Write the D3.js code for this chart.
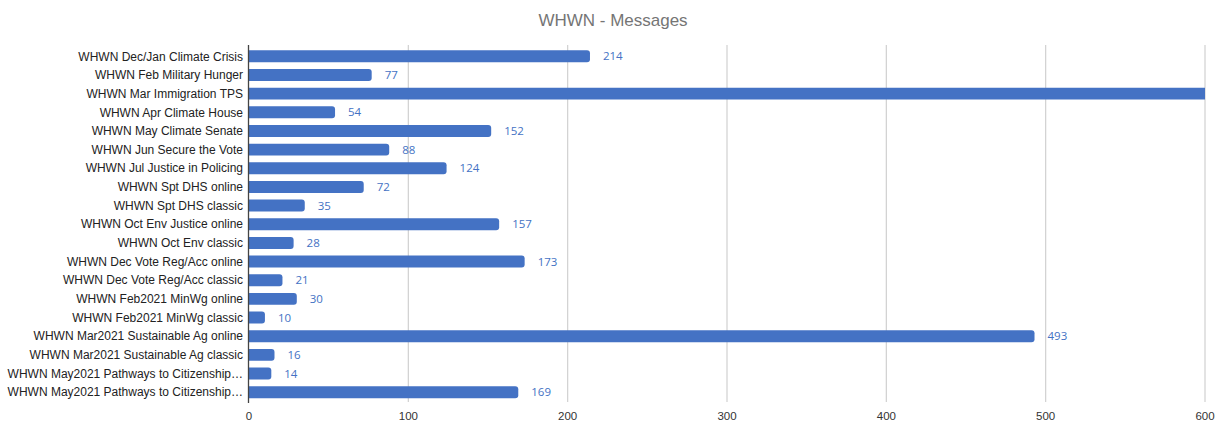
<!DOCTYPE html>
<html>
<head>
<meta charset="utf-8">
<script src="https://cdn.jsdelivr.net/npm/d3@7"></script>
<style>
  body { margin: 0; background: #fff; }
  svg { display: block; }
</style>
</head>
<body>
<svg id="chart"></svg>
<script>
var categories = [
    "WHWN Dec/Jan Climate Crisis",
    "WHWN Feb Military Hunger",
    "WHWN Mar Immigration TPS",
    "WHWN Apr Climate House",
    "WHWN May Climate Senate",
    "WHWN Jun Secure the Vote",
    "WHWN Jul Justice in Policing",
    "WHWN Spt DHS online",
    "WHWN Spt DHS classic",
    "WHWN Oct Env Justice online",
    "WHWN Oct Env classic",
    "WHWN Dec Vote Reg/Acc online",
    "WHWN Dec Vote Reg/Acc classic",
    "WHWN Feb2021 MinWg online",
    "WHWN Feb2021 MinWg classic",
    "WHWN Mar2021 Sustainable Ag online",
    "WHWN Mar2021 Sustainable Ag classic",
    "WHWN May2021 Pathways to Citizenship\u2026",
    "WHWN May2021 Pathways to Citizenship\u2026 "
];
// Mar Immigration TPS runs past the axis end; its true value is not visible
var messages = [214, 77, 640, 54, 152, 88, 124, 72, 35, 157, 28, 173, 21, 30, 10, 493, 16, 14, 169];
var xTicks = [0, 100, 200, 300, 400, 500, 600];

var width = 1225;
var height = 421;
var margin = { top: 47, right: 20, bottom: 20, left: 249 };
var xMax = 600;

var svg = d3.select("#chart").attr("width", width).attr("height", height);

var xScale = d3.scaleLinear().domain([0, xMax]).range([margin.left, 1205]);
var yScale = d3.scaleBand()
    .domain(categories)
    .range([margin.top, 401.5])
    .paddingInner(0.36)
    .paddingOuter(0.18);

var data = categories.map((c, i) => ({ category: c, value: messages[i] }));

// title
svg.append("text")
    .attr("x", 613)
    .attr("y", 26)
    .attr("text-anchor", "middle")
    .attr("font-family", "Liberation Sans, Arial, sans-serif")
    .attr("font-size", "17px")
    .attr("fill", "#757575")
    .text("WHWN - Messages");

// gridlines
svg.append("g")
    .selectAll("line")
    .data(xTicks.slice(1))
    .enter().append("line")
    .attr("x1", d => xScale(d))
    .attr("x2", d => xScale(d))
    .attr("y1", 45)
    .attr("y2", 402)
    .attr("stroke", "#d0d0d0")
    .attr("stroke-width", 1.2);

// tick labels
svg.append("g")
    .selectAll("text")
    .data(xTicks)
    .enter().append("text")
    .attr("x", d => xScale(d))
    .attr("y", 419.5)
    .attr("text-anchor", "middle")
    .attr("font-family", "Liberation Sans, Arial, sans-serif")
    .attr("font-size", "11.5px")
    .attr("fill", "#333")
    .text(d => d);

svg.append("defs").append("clipPath")
    .attr("id", "plotClip")
    .append("rect")
    .attr("x", margin.left)
    .attr("y", 0)
    .attr("width", xScale(xMax) - margin.left)
    .attr("height", height);

function barPath(d) {
    var x0 = xScale(0);
    var x1 = xScale(d.value);
    var y0 = yScale(d.category);
    var h = yScale.bandwidth();
    var r = Math.min(3, (x1 - x0) / 2);
    return `M${x0},${y0} H${x1 - r} Q${x1},${y0} ${x1},${y0 + r} V${y0 + h - r} Q${x1},${y0 + h} ${x1 - r},${y0 + h} H${x0} Z`;
}

svg.append("g")
    .attr("clip-path", "url(#plotClip)")
    .selectAll("path")
    .data(data)
    .enter().append("path")
    .attr("d", barPath)
    .attr("fill", "#4472c4");

// value labels (only those that fit inside the axis)
svg.append("g")
    .selectAll("text")
    .data(data.filter(d => d.value <= xMax))
    .enter().append("text")
    .attr("x", d => xScale(d.value) + 13)
    .attr("y", d => yScale(d.category) + yScale.bandwidth() / 2)
    .attr("dy", "0.36em")
    .attr("font-family", "Open Sans, Roboto, sans-serif")
    .attr("font-size", "11.5px")
    .attr("fill", "#4472c4")
    .text(d => d.value);

// category labels
svg.append("g")
    .selectAll("text")
    .data(data)
    .enter().append("text")
    .attr("x", 243)
    .attr("y", d => yScale(d.category) + yScale.bandwidth() / 2)
    .attr("dy", "0.35em")
    .attr("text-anchor", "end")
    .attr("font-family", "Liberation Sans, Arial, sans-serif")
    .attr("font-size", "12px")
    .attr("fill", "#222")
    .text(d => d.category.trim());

// left axis line
svg.append("line")
    .attr("x1", margin.left - 0.5)
    .attr("x2", margin.left - 0.5)
    .attr("y1", 45)
    .attr("y2", 403)
    .attr("stroke", "#444")
    .attr("stroke-width", 1.3);
</script>
</body>
</html>
